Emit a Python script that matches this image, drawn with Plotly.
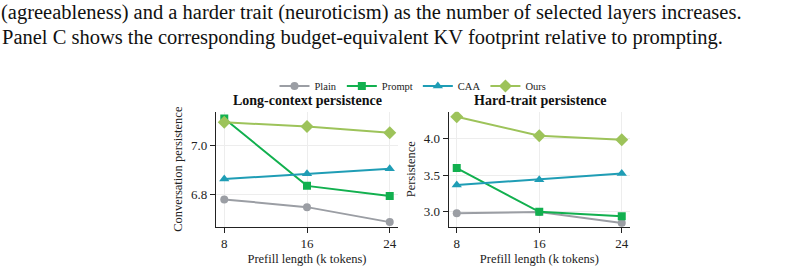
import plotly.graph_objects as go

x_vals = [8, 16, 24]
series_names = ["Plain", "Prompt", "CAA", "Ours"]
colors = ["#9b9ea4", "#12b04f", "#1f9db5", "#9dc35a"]
symbols = ["circle", "square", "triangle-up", "diamond"]
msizes = [8, 8, 9, 10]

left_vals = {
    "Plain": [6.778, 6.746, 6.684],
    "Prompt": [7.113, 6.834, 6.792],
    "CAA": [6.862, 6.884, 6.905],
    "Ours": [7.097, 7.080, 7.054],
}
right_vals = {
    "Plain": [2.978, 2.996, 2.846],
    "Prompt": [3.595, 2.998, 2.94],
    "CAA": [3.364, 3.437, 3.52],
    "Ours": [4.294, 4.035, 3.98],
}

left_title = "Long-context persistence"
right_title = "Hard-trait persistence"
left_ylabel = "Conversation persistence"
right_ylabel = "Persistence"
xlabel = "Prefill length (k tokens)"
caption_lines = [
    "(agreeableness) and a harder trait (neuroticism) as the number of selected layers increases.",
    "Panel C shows the corresponding budget-equivalent KV footprint relative to prompting.",
]

W, H = 807, 271
SERIF = "Liberation Serif"

fig = go.Figure()
for i, name in enumerate(series_names):
    fig.add_trace(go.Scatter(
        x=x_vals, y=left_vals[name], mode="lines+markers", name=name,
        line=dict(color=colors[i], width=2),
        marker=dict(symbol=symbols[i], size=msizes[i], color=colors[i]),
        xaxis="x", yaxis="y", showlegend=True, legendgroup=name))
    fig.add_trace(go.Scatter(
        x=x_vals, y=right_vals[name], mode="lines+markers", name=name,
        line=dict(color=colors[i], width=2),
        marker=dict(symbol=symbols[i], size=msizes[i], color=colors[i]),
        xaxis="x2", yaxis="y2", showlegend=False, legendgroup=name))

def px_x(p):
    return p / W

def px_y(p):
    return (H - p) / H

ydom = [px_y(226.7), px_y(111.7)]
axis_common = dict(
    showline=True, linecolor="#222", linewidth=1.2, ticks="outside",
    ticklen=5, tickcolor="#222", tickwidth=1, showgrid=True,
    gridcolor="#ededed", gridwidth=1, zeroline=False,
    tickfont=dict(family=SERIF, size=13, color="#222"), automargin=False,
)
title_font = dict(family=SERIF, size=12.5, color="#222")
fig.update_layout(
    width=W, height=H, margin=dict(l=0, r=0, t=0, b=0),
    paper_bgcolor="white", plot_bgcolor="white",
    font=dict(family=SERIF, color="#222"),
    xaxis=dict(domain=[px_x(216), px_x(398)], range=[7.2, 24.8],
               tickvals=x_vals, anchor="y",
               title=dict(text=xlabel, font=title_font, standoff=3),
               **axis_common),
    yaxis=dict(domain=ydom, range=[6.665, 7.141], tickvals=[6.8, 7.0],
               ticktext=["6.8", "7.0"], anchor="x",
               title=dict(text=left_ylabel, font=title_font, standoff=5),
               **axis_common),
    xaxis2=dict(domain=[px_x(448.7), px_x(630)], range=[7.22, 24.8],
                tickvals=x_vals, anchor="y2",
                title=dict(text=xlabel, font=title_font, standoff=3),
                **axis_common),
    yaxis2=dict(domain=ydom, range=[2.796, 4.362], tickvals=[3.0, 3.5, 4.0],
                ticktext=["3.0", "3.5", "4.0"], anchor="x2",
                title=dict(text=right_ylabel, font=title_font, standoff=5),
                **axis_common),
    legend=dict(orientation="h", x=px_x(413), y=px_y(86), xanchor="center",
                yanchor="middle", font=dict(family=SERIF, size=10.5),
                bgcolor="rgba(0,0,0,0)", itemwidth=30, tracegroupgap=0),
    showlegend=True,
)

annotations = [
    dict(text="<b>" + left_title + "</b>", x=px_x(307), y=px_y(100),
         xref="paper", yref="paper", xanchor="center", yanchor="middle",
         showarrow=False, font=dict(family=SERIF, size=14, color="#111")),
    dict(text="<b>" + right_title + "</b>", x=px_x(540), y=px_y(100),
         xref="paper", yref="paper", xanchor="center", yanchor="middle",
         showarrow=False, font=dict(family=SERIF, size=14, color="#111")),
    dict(text=caption_lines[0], x=0, y=1, xref="paper", yref="paper",
         xanchor="left", yanchor="top", showarrow=False, borderpad=0,
         font=dict(family=SERIF, size=20.5, color="#111")),
    dict(text=caption_lines[1], x=px_x(1), y=px_y(24.5), xref="paper", yref="paper",
         xanchor="left", yanchor="top", showarrow=False, borderpad=0,
         font=dict(family=SERIF, size=20.5, color="#111")),
]
fig.update_layout(annotations=annotations)

fig.write_html("out.html")
